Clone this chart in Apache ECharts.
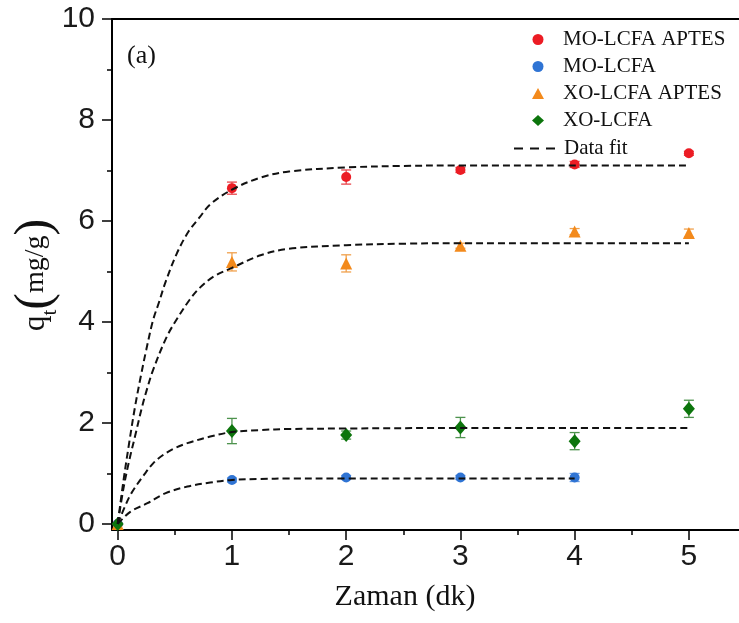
<!DOCTYPE html>
<html>
<head>
<meta charset="utf-8">
<script src="https://cdn.jsdelivr.net/npm/echarts@6/dist/echarts.min.js"></script>
<style>
  html, body { margin: 0; padding: 0; background: #fff; }
  #chart { width: 739px; height: 623px; }
</style>
</head>
<body>
<div id="chart"></div>
<script>
// Datos
const timeMO = [0, 1, 2, 3, 4, 5];
const timeMOplain = [0, 1, 2, 3, 4];

const moAptesY = [0, 6.65, 6.87, 7.01, 7.12, 7.34];
const moAptesErr = [0, 0.12, 0.14, 0.05, 0.06, 0.04];

const moY = [0, 0.87, 0.92, 0.92, 0.92];
const moErr = [0, 0.04, 0.04, 0.04, 0.08];

const xoAptesY = [0, 5.19, 5.16, 5.51, 5.79, 5.76];
const xoAptesErr = [0, 0.18, 0.17, 0.05, 0.06, 0.08];

const xoY = [0, 1.84, 1.76, 1.91, 1.64, 2.28];
const xoErr = [0, 0.25, 0.08, 0.2, 0.17, 0.17];

// Curvas de ajuste
const moAptesFit = [[0, 0], [0.05, 0.85], [0.1, 1.6], [0.15, 2.3], [0.2, 2.9], [0.25, 3.45], [0.31, 4.04], [0.36, 4.38], [0.42, 4.8], [0.52, 5.37], [0.62, 5.79], [0.72, 6.08], [0.81, 6.33], [1.0, 6.62], [1.25, 6.86], [1.5, 6.98], [2, 7.06], [2.5, 7.09], [3, 7.1], [4, 7.1], [5, 7.1]];
const xoAptesFit = [[0, 0], [0.05, 0.7], [0.1, 1.25], [0.15, 1.72], [0.21, 2.29], [0.25, 2.62], [0.31, 3.05], [0.43, 3.71], [0.53, 4.1], [0.63, 4.44], [0.72, 4.68], [0.84, 4.9], [1.0, 5.07], [1.25, 5.32], [1.5, 5.45], [2, 5.52], [2.5, 5.55], [3, 5.56], [4, 5.56], [5, 5.56]];
const xoFit = [[0, 0], [0.06, 0.33], [0.12, 0.61], [0.23, 0.97], [0.31, 1.2], [0.4, 1.37], [0.5, 1.5], [0.61, 1.6], [0.81, 1.73], [1.0, 1.82], [1.25, 1.86], [1.5, 1.88], [2, 1.89], [3, 1.9], [4, 1.9], [5, 1.9]];
const moFit = [[0, 0], [0.11, 0.24], [0.26, 0.41], [0.42, 0.61], [0.61, 0.74], [0.81, 0.82], [1, 0.87], [1.25, 0.89], [1.5, 0.9], [2, 0.9], [3, 0.9], [4, 0.9]];

// Marcas de los ejes
const xMajorTicks = [0, 1, 2, 3, 4, 5];
const xMinorTicks = [0.5, 1.5, 2.5, 3.5, 4.5, 5.5];
const yMajorTicks = [0, 2, 4, 6, 8, 10];
const yMinorTicks = [1, 3, 5, 7, 9];

const seriesNames = ['MO-LCFA APTES', 'MO-LCFA', 'XO-LCFA APTES', 'XO-LCFA'];

const chart = echarts.init(document.getElementById('chart'));

const zip = (xs, ys, es) => xs.map((x, i) => es ? [x, ys[i], es[i]] : [x, ys[i]]);

// Barras de error con serie custom
const errorBars = (data, color) => ({
    type: 'custom',
    data: data,
    silent: true,
    z: 2,
    renderItem: (params, api) => {
        const x = api.value(0), y = api.value(1), e = api.value(2);
        if (!e) return null;
        const top = api.coord([x, y + e]);
        const bot = api.coord([x, y - e]);
        const w = 5;
        const st = { stroke: color, lineWidth: 1.3 };
        return {
            type: 'group',
            children: [
                { type: 'line', shape: { x1: top[0], y1: top[1], x2: bot[0], y2: bot[1] }, style: st },
                { type: 'line', shape: { x1: top[0] - w, y1: top[1], x2: top[0] + w, y2: top[1] }, style: st },
                { type: 'line', shape: { x1: bot[0] - w, y1: bot[1], x2: bot[0] + w, y2: bot[1] }, style: st }
            ]
        };
    }
});

const scatter = (name, data, color, symbol, size) => ({
    name: name,
    type: 'scatter',
    data: data,
    symbol: symbol,
    symbolSize: size,
    itemStyle: { color: color, opacity: 1 },
    z: 3
});

const fitLine = (data) => ({
    name: 'Data fit',
    type: 'line',
    data: data,
    smooth: 0.35,
    symbol: 'none',
    itemStyle: { color: '#111' },
    lineStyle: { color: '#111', width: 2, type: [7, 4] },
    z: 4
});

const sansFont = '"Liberation Sans", Arial, sans-serif';
const serifFont = '"Liberation Serif", "Times New Roman", serif';

const option = {
    animation: false,
    backgroundColor: '#fff',
    grid: {
        left: 112,
        top: 19,
        right: -7,
        bottom: 93,
        outerBoundsMode: 'none',
        containLabel: false
    },
    xAxis: [
        {
            type: 'value',
            min: -0.05,
            max: 5.5,
            position: 'bottom',
            axisLine: { show: true, onZero: false, lineStyle: { color: '#000', width: 2 } },
            axisTick: { show: true, length: 10, customValues: xMajorTicks, lineStyle: { color: '#000', width: 1.5 } },
            axisLabel: { customValues: xMajorTicks, fontSize: 30, fontFamily: sansFont, color: '#1a1a1a', margin: 12 },
            splitLine: { show: false }
        },
        {
            type: 'value',
            min: -0.05,
            max: 5.5,
            position: 'bottom',
            axisLine: { show: false, onZero: false },
            axisTick: { show: true, length: 5, customValues: xMinorTicks, lineStyle: { color: '#000', width: 1.5 } },
            axisLabel: { show: false },
            splitLine: { show: false }
        },
        {
            type: 'value',
            min: -0.05,
            max: 5.5,
            position: 'top',
            axisLine: { show: true, onZero: false, lineStyle: { color: '#000', width: 2 } },
            axisTick: { show: false },
            axisLabel: { show: false },
            splitLine: { show: false }
        }
    ],
    yAxis: [
        {
            type: 'value',
            min: -0.12,
            max: 10,
            position: 'left',
            axisLine: { show: true, onZero: false, lineStyle: { color: '#000', width: 2 } },
            axisTick: { show: true, length: 10, customValues: yMajorTicks, lineStyle: { color: '#000', width: 1.5 } },
            axisLabel: { customValues: yMajorTicks, fontSize: 30, fontFamily: sansFont, color: '#1a1a1a', margin: 17 },
            splitLine: { show: false }
        },
        {
            type: 'value',
            min: -0.12,
            max: 10,
            position: 'left',
            axisLine: { show: false, onZero: false },
            axisTick: { show: true, length: 5, customValues: yMinorTicks, lineStyle: { color: '#000', width: 1.5 } },
            axisLabel: { show: false },
            splitLine: { show: false }
        }
    ],
    legend: [
        {
            orient: 'vertical',
            left: 527,
            top: 24,
            itemWidth: 12,
            itemHeight: 11,
            itemGap: 6,
            data: seriesNames,
            textStyle: { fontFamily: serifFont, fontSize: 21, lineHeight: 21, color: '#111', padding: [0, 0, 0, 14] }
        },
        {
            orient: 'vertical',
            left: 508,
            top: 133,
            itemWidth: 44,
            itemHeight: 10,
            data: [{ name: 'Data fit', icon: 'inherit' }],
            itemStyle: { opacity: 0 },
            lineStyle: { type: [9, 7], width: 2, color: '#111' },
            textStyle: { fontFamily: serifFont, fontSize: 21, lineHeight: 21, color: '#111', padding: [0, 0, 0, 1] }
        }
    ],
    graphic: [
        {
            type: 'text',
            left: 127,
            top: 43,
            style: { text: '(a)', fontFamily: serifFont, fontSize: 26, fill: '#111' }
        },
        {
            type: 'text',
            x: 405,
            y: 597,
            style: { text: 'Zaman (dk)', fontFamily: serifFont, fontSize: 30, fill: '#111', align: 'center', verticalAlign: 'middle' }
        },
        {
            type: 'text',
            x: 36,
            y: 275,
            rotation: Math.PI / 2,
            style: {
                text: '{q|q}{t|t}{p|(}{u|mg/g}{p|)}',
                align: 'center',
                verticalAlign: 'middle',
                fill: '#111',
                rich: {
                    q: { fontFamily: serifFont, fontSize: 31, verticalAlign: 'middle', fill: '#111' },
                    t: { fontFamily: serifFont, fontSize: 21, verticalAlign: 'bottom', lineHeight: 36, fill: '#111' },
                    p: { fontFamily: serifFont, fontSize: 50, lineHeight: 50, verticalAlign: 'middle', fill: '#111' },
                    u: { fontFamily: serifFont, fontSize: 28, verticalAlign: 'middle', fill: '#111' }
                }
            }
        }
    ],
    series: [
        errorBars(zip(timeMO, moAptesY, moAptesErr), '#e8464c'),
        errorBars(zip(timeMOplain, moY, moErr), '#6a9be0'),
        errorBars(zip(timeMO, xoAptesY, xoAptesErr), '#f0a04c'),
        errorBars(zip(timeMO, xoY, xoErr), '#4e934e'),
        scatter('MO-LCFA APTES', zip(timeMO, moAptesY), '#ec1c24', 'circle', 10),
        scatter('MO-LCFA', zip(timeMOplain, moY), '#2f74d4', 'circle', 10),
        scatter('XO-LCFA APTES', zip(timeMO, xoAptesY), '#f38a1c', 'triangle', 12),
        scatter('XO-LCFA', zip(timeMO, xoY), '#0c750c', 'diamond', [12, 14]),
        fitLine(moAptesFit),
        fitLine(xoAptesFit),
        fitLine(xoFit),
        fitLine(moFit)
    ]
};

chart.setOption(option);
</script>
</body>
</html>
